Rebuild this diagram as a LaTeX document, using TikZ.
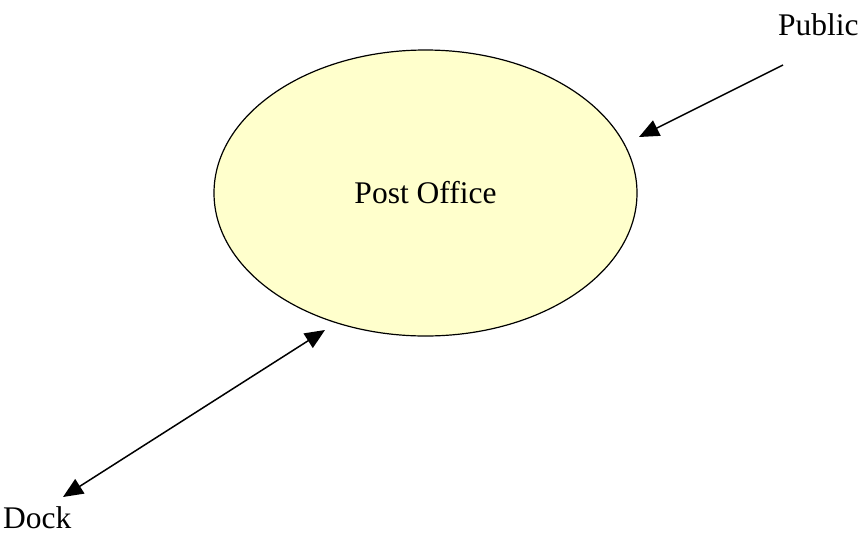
\documentclass[tikz,border=0pt]{standalone}
\usepackage{fontspec}
\setmainfont{Liberation Serif}
\usetikzlibrary{arrows.meta,shapes.geometric}
\definecolor{paleyellow}{HTML}{FFFFCC}
\begin{document}
\begin{tikzpicture}[x=1pt,y=-1pt,
  lbl/.style={font=\fontsize{31.5}{38}\selectfont, inner sep=0pt},
  place/.style={ellipse, draw=black, line width=1.2pt, fill=paleyellow,
    minimum width=423pt, minimum height=286pt, inner sep=0pt,
    font=\fontsize{31.5}{38}\selectfont},
  flow/.style={line width=1.5pt, -{Triangle[length=20pt,width=17pt]}},
  flowboth/.style={line width=1.5pt, {Triangle[length=20pt,width=17pt]}-{Triangle[length=20pt,width=17pt]}}]
  \useasboundingbox (0,0) rectangle (861,536);

  % central process
  \node[place] (po) at (425.5,193) {Post Office};

  % external parties
  \node[lbl, anchor=base west] (public) at (778,35) {Public};
  \node[lbl, anchor=base west] (dock) at (3,528) {Dock};

  % connector end points
  \coordinate (pubtail) at (783,65);
  \coordinate (pubtip) at (639,137);
  \coordinate (docktip) at (63,497);
  \coordinate (potip) at (325,330);

  \draw[flow] (pubtail) -- (pubtip);
  \draw[flowboth] (docktip) -- (potip);
\end{tikzpicture}
\end{document}
